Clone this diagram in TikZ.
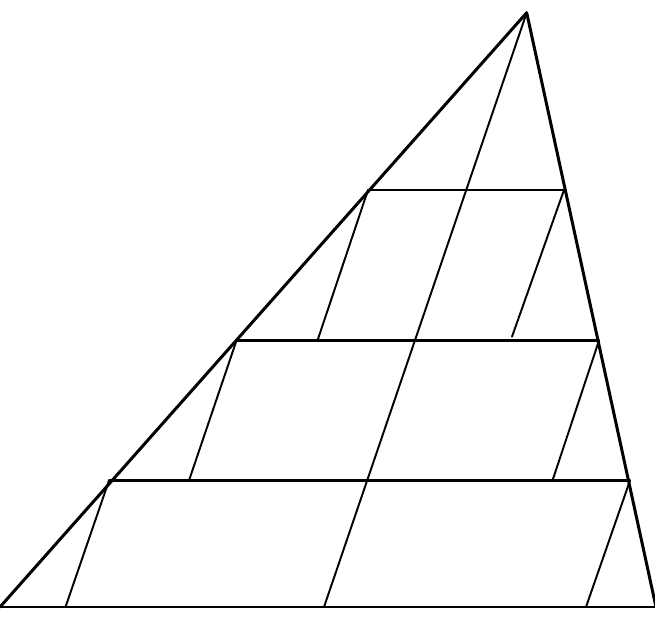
\documentclass[tikz,border=0pt]{standalone}
\usepackage{tkz-euclide}
\tikzset{
  side/.style={line width=1.7pt, line join=round},
  rung/.style={line width=1.35pt},
  slant/.style={line width=1.1pt}
}

\begin{document}
\begin{tikzpicture}
    \useasboundingbox (0,0) rectangle (13.1,12.66);
    \tkzDefPoints{10.534/12.406/A, 0/0.52/B, 13.12/0.52/C}

    % rungs
    \tkzDefPoints{7.36/8.86/L_1, 11.28/8.86/R_1}
    \tkzDefPoints{4.73/5.85/L_2, 11.98/5.85/R_2}
    \tkzDefPoints{2.18/3.05/L_3, 12.60/3.05/R_3}

    % feet of the slanted lines
    \tkzDefPoints{6.35/5.85/P_1, 10.24/5.926/Q_1}
    \tkzDefPoints{3.78/3.05/P_2, 11.05/3.05/Q_2}
    \tkzDefPoints{1.31/0.52/P_3, 11.72/0.52/Q_3}
    \tkzDefPoints{6.48/0.52/M}

    \tkzDrawSegments[side](B,A A,C)
    \tkzDrawSegments[side](B,C)
    \tkzDrawSegments[rung](L_1,R_1 L_2,R_2 L_3,R_3)
    \tkzDrawSegments[slant](A,M L_1,P_1 R_1,Q_1 L_2,P_2 R_2,Q_2 L_3,P_3 R_3,Q_3)
\end{tikzpicture}
\end{document}
